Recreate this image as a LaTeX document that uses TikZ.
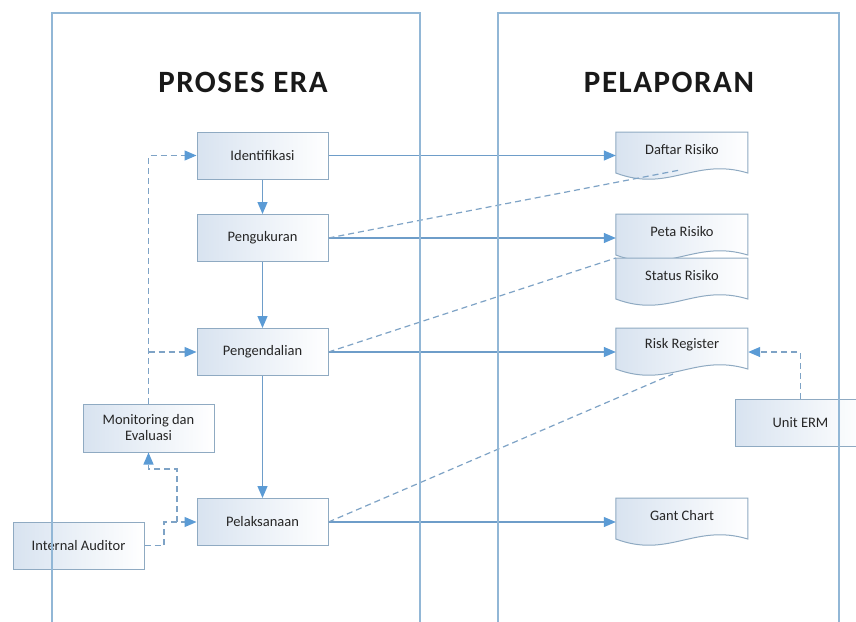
\documentclass[tikz,border=0pt]{standalone}
\usepackage{fontspec}
\setmainfont{Carlito}
\newfontfamily\titlefont[LetterSpace=5]{Carlito}
\usetikzlibrary{arrows.meta,calc,backgrounds}
\definecolor{lane}{HTML}{92B7D6}
\definecolor{conn}{HTML}{6E9DC9}
\definecolor{tipc}{HTML}{5B9BD5}
\definecolor{bord}{HTML}{8FAAC2}
\definecolor{boxl}{HTML}{D8E3F0}
\definecolor{dsh}{HTML}{7EA3C6}
\newcommand\docshape[1]{\path[docline] (#1.north west) -- ++(0,41) .. controls +(53,20) and +(-53,-16) .. ++(132,0) -- ++(0,-41) -- cycle;}
\begin{document}
\begin{tikzpicture}[x=1pt,y=-1pt,
  proc/.style={draw=bord, line width=1pt, left color=boxl, right color=white,
    minimum width=131pt, minimum height=47pt, inner sep=0pt,
    font=\fontsize{14.5}{16}\selectfont, align=center, text=black!85},
  docnode/.style={minimum width=132pt, minimum height=34pt, inner sep=0pt, anchor=north,
    font=\fontsize{14.5}{16}\selectfont, text=black!85},
  docline/.style={draw=bord, line width=1pt, left color=boxl, right color=white},
  lanel/.style={draw=lane, line width=1.2pt},
  titletext/.style={font=\titlefont\fontsize{31}{35}\selectfont\bfseries, text=black!90},
  flow/.style={draw=conn, line width=1.2pt, -{Triangle[length=12pt,width=10pt,color=tipc]}},
  link/.style={draw=dsh, line width=1.2pt, dash pattern=on 6pt off 4pt},
  dlink/.style={link, -{Triangle[length=12pt,width=10pt,color=tipc]}},
]
\clip (0,0) rectangle (856,621);

% titles
\node[titletext] (t1) at (243,82) {PROSES ERA};
\node[titletext] (t2) at (669,82) {PELAPORAN};

% process boxes
\node[proc] (ident) at (262.5,155.5) {Identifikasi};
\node[proc] (peng)  at (262.5,238) {Pengukuran};
\node[proc] (pengd) at (262.5,352) {Pengendalian};
\node[proc] (pel)   at (262.5,522) {Pelaksanaan};
\node[proc, minimum height=48pt] (mon) at (148.5,428) {Monitoring dan\\Evaluasi};
\node[proc] (ia)    at (78.5,545.5) {Internal Auditor};
\node[proc] (unit)  at (800.5,422.5) {Unit ERM};

% documents
\node[docnode] (daftar) at (682,132) {Daftar Risiko};
\node[docnode] (peta)   at (682,214) {Peta Risiko};
\node[docnode] (status) at (682,258) {Status Risiko};
\node[docnode] (risk)   at (682,328) {Risk Register};
\node[docnode] (gant)   at (682,498) {Gant Chart};
\begin{scope}[on background layer]
\fill[white] (0,0) rectangle (856,621);
\docshape{daftar}
\docshape{peta}
\docshape{status}
\docshape{risk}
\docshape{gant}
\end{scope}

% solid flows
\draw[flow] (ident) -- (peng);
\draw[flow] (peng) -- (pengd);
\draw[flow] (pengd) -- (pel);
\draw[flow] (ident.east) -- (ident.east -| daftar.west);
\draw[flow] (peng.east) -- (peng.east -| peta.west);
\draw[flow] (pengd.east) -- (pengd.east -| risk.west);
\draw[flow] (pel.east) -- (pel.east -| gant.west);

% dashed links
\coordinate (dw) at (680,170);
\coordinate (rw) at (673,374);
\draw[link] (peng.east) -- (dw);
\draw[link] (pengd.east) -- (status.north west);
\draw[link] (pel.east) -- (rw);

\draw[dlink] (mon.north) -- (mon.north |- ident.west) -- (ident.west);
\draw[dlink] (mon.north |- pengd.west) -- (pengd.west);
\coordinate (iaj) at (164,522);
\draw[dlink] (ia.east) -| (iaj) -- (pel.west);
\coordinate (pj) at (177,522);
\coordinate (mk) at (148.5,469);
\draw[dlink] (pj) |- (mk) -- (mon.south);
\draw[dlink] (unit.north) |- (risk.east |- pengd.east);

% swimlanes
\draw[lanel] (52,630) -- (52,13) -- (420,13) -- (420,630);
\draw[lanel] (498,630) -- (498,13) -- (839,13) -- (839,630);
\end{tikzpicture}
\end{document}
